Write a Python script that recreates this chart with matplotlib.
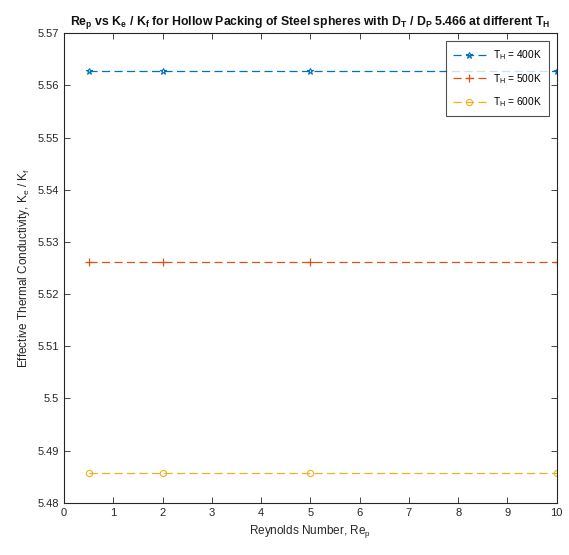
import matplotlib
matplotlib.use("Agg")
import matplotlib.pyplot as plt

plt.rcParams['font.family'] = ['Liberation Sans', 'DejaVu Sans']

re_p = [0.5, 2, 5, 10]
ke_400 = [5.5627, 5.5627, 5.5627, 5.5627]
ke_500 = [5.5262, 5.5262, 5.5262, 5.5262]
ke_600 = [5.4858, 5.4858, 5.4858, 5.4858]
x_ticks = [0, 1, 2, 3, 4, 5, 6, 7, 8, 9, 10]
y_ticks = [5.48, 5.49, 5.50, 5.51, 5.52, 5.53, 5.54, 5.55, 5.56, 5.57]
y_labels = ['5.48', '5.49', '5.5', '5.51', '5.52', '5.53', '5.54', '5.55', '5.56', '5.57']

fig = plt.figure(figsize=(5.69, 5.55), dpi=100)
ax = fig.add_axes([0.1125, 0.094, 0.866, 0.846])

dash = (0, (6.5, 3.5))
ax.plot(re_p, ke_400, linestyle=dash, color='#0072BD', lw=0.9,
        marker='*', markersize=5, markerfacecolor='none', markeredgewidth=0.8,
        label=r'T$_\mathregular{H}$ = 400K')
ax.plot(re_p, ke_500, linestyle=dash, color='#D95319', lw=0.9,
        marker='+', markersize=6, markeredgewidth=0.9,
        label=r'T$_\mathregular{H}$ = 500K')
ax.plot(re_p, ke_600, linestyle=dash, color='#EDB120', lw=0.9,
        marker='o', markersize=4.5, markerfacecolor='none', markeredgewidth=0.8,
        label=r'T$_\mathregular{H}$ = 600K')

ax.set_xlim(0, 10)
ax.set_ylim(5.48, 5.57)
ax.set_xticks(x_ticks)
ax.set_yticks(y_ticks)
ax.set_yticklabels(y_labels)
ax.tick_params(direction='in', top=True, right=True, labelsize=8,
               colors='#262626', length=4, width=0.6)
for s in ax.spines.values():
    s.set_color('#262626')
    s.set_linewidth(0.8)

ax.set_xlabel(r'Reynolds Number, Re$_\mathregular{p}$', fontsize=8.5, color='#262626')
ax.set_ylabel(r'Effective Thermal Conductivity, K$_\mathregular{e}$ / K$_\mathregular{f}$',
              fontsize=8.5, color='#262626')
ax.set_title(r'Re$_\mathregular{p}$ vs K$_\mathregular{e}$ / K$_\mathregular{f}$ for Hollow Packing of Steel spheres with D$_\mathregular{T}$ / D$_\mathregular{P}$ 5.466 at different T$_\mathregular{H}$',
             fontsize=8.8, fontweight='bold', color='#111111', pad=6)

leg = ax.legend(loc='upper right', fontsize=7.3, frameon=True, fancybox=False,
                edgecolor='#262626', borderaxespad=0.8, handlelength=3.2,
                labelspacing=0.95, borderpad=0.7, handletextpad=0.7)
leg.get_frame().set_linewidth(0.8)

fig.savefig('out.png', dpi=100)
